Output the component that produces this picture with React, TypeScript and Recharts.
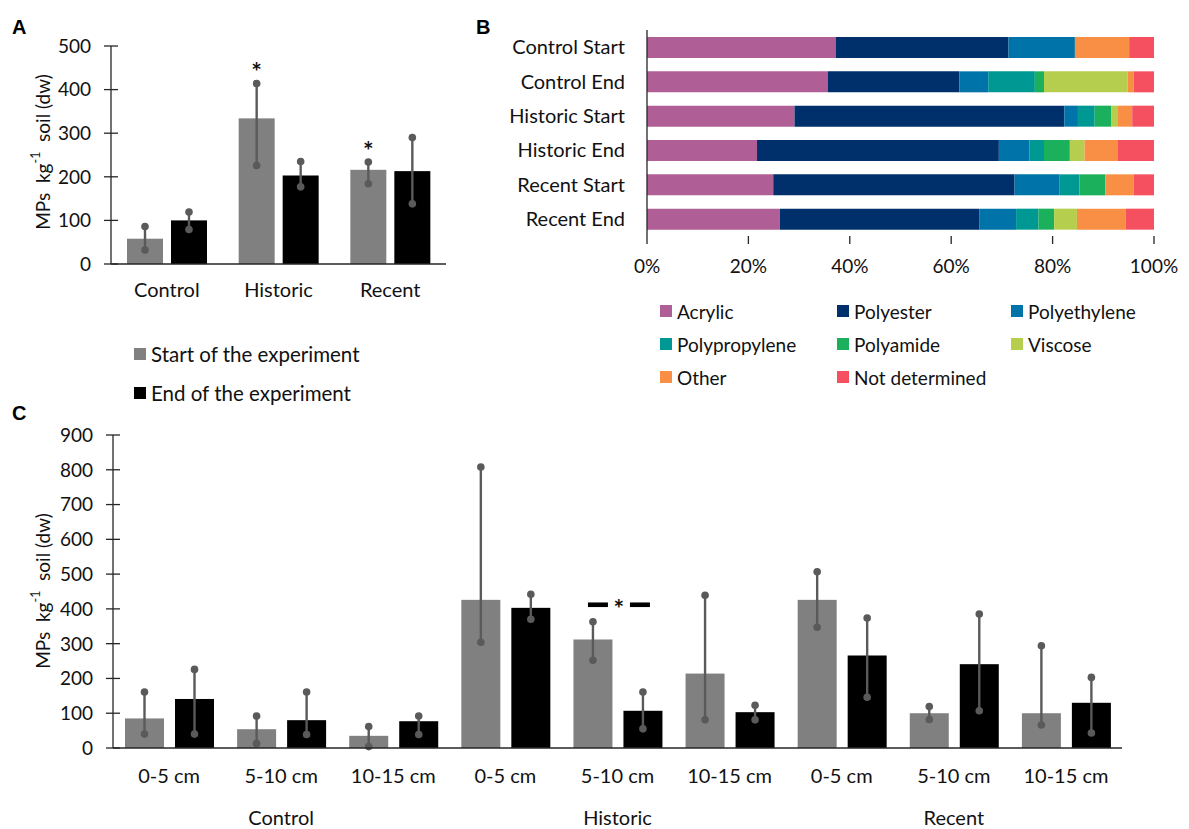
import React from "react"
import { Bar, BarChart, XAxis, YAxis } from "recharts"

// ---- Panel A: site totals ----
const groupsA = ["Control", "Historic", "Recent"]
const startA = [58, 334, 216]
const startALo = [32, 226, 184]
const startAHi = [86, 414, 234]
const endA = [100, 203, 213]
const endALo = [79, 177, 138]
const endAHi = [119, 235, 290]
const starA = [false, true, true]
const seriesNames = ["Start of the experiment", "End of the experiment"]
const seriesColors = ["#808080", "#000000"]
const ticksA = [0, 100, 200, 300, 400, 500]

// ---- Panel B: polymer composition (%) ----
const samplesB = ["Control Start", "Control End", "Historic Start", "Historic End", "Recent Start", "Recent End"]
const polymers = ["Acrylic", "Polyester", "Polyethylene", "Polypropylene", "Polyamide", "Viscose", "Other", "Not determined"]
const polymerColors = ["#B05F96", "#00306B", "#0074A8", "#009893", "#1BB05C", "#B6CE4E", "#F88F45", "#F4505F"]
const acrylic = [37.2, 35.7, 29.1, 21.7, 24.9, 26.2]
const polyester = [34.1, 25.9, 53.2, 47.7, 47.6, 39.4]
const polyethylene = [13.1, 5.7, 2.7, 6.0, 8.9, 7.2]
const polypropylene = [0, 9.2, 3.3, 2.9, 3.9, 4.4]
const polyamide = [0, 1.8, 3.3, 5.1, 5.1, 3.1]
const viscose = [0, 16.5, 1.3, 2.9, 0, 4.5]
const other = [10.7, 1.2, 2.8, 6.6, 5.6, 9.6]
const notDetermined = [4.9, 4.0, 4.3, 7.1, 4.0, 5.6]
const polymerValues = [acrylic, polyester, polyethylene, polypropylene, polyamide, viscose, other, notDetermined]
const ticksB = [0, 20, 40, 60, 80, 100]

// ---- Panel C: by depth ----
const sitesC = ["Control", "Historic", "Recent"]
const depthsC = ["0-5 cm", "5-10 cm", "10-15 cm"]
const startC = [85, 54, 35, 426, 312, 214, 426, 100, 100]
const startCLo = [40, 13, 4, 304, 252, 81, 347, 82, 66]
const startCHi = [161, 92, 62, 808, 363, 439, 507, 119, 294]
const endC = [141, 80, 77, 403, 107, 103, 266, 241, 130]
const endCLo = [40, 39, 39, 370, 55, 81, 146, 107, 43]
const endCHi = [226, 161, 92, 442, 161, 123, 374, 385, 203]
const sigC = [false, false, false, false, true, false, false, false, false]
const ticksC = [0, 100, 200, 300, 400, 500, 600, 700, 800, 900]

const dataA = groupsA.map((g, i) => ({
  group: g,
  start: startA[i], startLo: startALo[i], startHi: startAHi[i],
  end: endA[i], endLo: endALo[i], endHi: endAHi[i],
  star: starA[i],
}))

const dataB = samplesB.map((s, i) => {
  const row: any = { sample: s }
  polymers.forEach((p, j) => { row[p] = polymerValues[j][i] })
  return row
})

const dataC = sitesC.flatMap((site, si) =>
  depthsC.map((d, di) => {
    const i = si * 3 + di
    return {
      depth: d, site,
      start: startC[i], startLo: startCLo[i], startHi: startCHi[i],
      end: endC[i], endLo: endCLo[i], endHi: endCHi[i],
      sig: sigC[i],
    }
  })
)

const FONT = "Lato, 'Open Sans', sans-serif"
const TEXT = "#111"
const AXIS = "#262626"
const WHISKER = "#5a5a5a"

function RangeBar(props: any) {
  const { x, y, width, height, fill, payload, vKey, gap } = props
  const v = payload[vKey]
  const lo = payload[vKey + "Lo"]
  const hi = payload[vKey + "Hi"]
  const base = y + height
  const k = v ? height / v : 0
  const yOf = (t: number) => base - t * k
  const cx = x + width / 2
  return (
    <g>
      <rect x={x} y={y} width={width} height={height} fill={fill} />
      <line x1={cx} x2={cx} y1={yOf(lo)} y2={yOf(hi)} stroke={WHISKER} strokeWidth={2.4} />
      <circle cx={cx} cy={yOf(lo)} r={3.8} fill={WHISKER} />
      <circle cx={cx} cy={yOf(hi)} r={3.8} fill={WHISKER} />
      {payload.star && vKey === "start" && (
        <text x={cx} y={yOf(hi) - 2} textAnchor="middle" fontSize={25} fontWeight="bold" fontFamily={FONT} fill={TEXT}>*</text>
      )}
      {payload.sig && vKey === "start" && (() => {
        const mx = x + width + gap / 2
        const sy = yOf(hi) - 17
        return (
          <g>
            <rect x={mx - 30} y={sy - 2.3} width={20} height={4.6} fill="#000" />
            <rect x={mx + 12} y={sy - 2.3} width={20} height={4.6} fill="#000" />
            <text x={mx + 1} y={sy + 13} textAnchor="middle" fontSize={25} fontWeight="bold" fontFamily={FONT} fill={TEXT}>*</text>
          </g>
        )
      })()}
    </g>
  )
}

function CrossTick(props: any) {
  const { x, y, payload } = props
  return (
    <g>
      <line x1={x - 7} x2={x + 7} y1={y} y2={y} stroke={AXIS} strokeWidth={1.3} />
      <text x={x - 20} y={y} dy="0.36em" textAnchor="end" fontSize={19} fontFamily={FONT} fill={TEXT}>
        {payload.value}
      </text>
    </g>
  )
}

function DepthTick(props: any) {
  const { x, y, payload, index } = props
  const row = dataC[index]
  return (
    <g>
      <text x={x} y={y + 35} textAnchor="middle" fontSize={20} fontFamily={FONT} fill={TEXT}>{payload.value}</text>
      {index % 3 === 1 && (
        <text x={x} y={y + 77} textAnchor="middle" fontSize={20} fontFamily={FONT} fill={TEXT}>{row.site}</text>
      )}
    </g>
  )
}

function YTitle({ cx, cy }: { cx: number; cy: number }) {
  return (
    <text
      x={cx} y={cy} transform={`rotate(-90 ${cx} ${cy})`} textAnchor="middle" dominantBaseline="central"
      fontSize={19} fontFamily={FONT} fill={TEXT} style={{ whiteSpace: "pre" }}
    >
      MPs  kg<tspan fontSize={12.5} dy={-7}>-1</tspan><tspan dy={7}>  soil (dw)</tspan>
    </text>
  )
}

const letter = (t: string, left: number, top: number) => (
  <div style={{ position: "absolute", left, top, fontFamily: "'Liberation Sans', Arial, sans-serif", fontWeight: "bold", fontSize: 20, color: "#000" }}>{t}</div>
)

function Swatch({ color, label, left, top, size }: { color: string; label: string; left: number; top: number; size: number }) {
  return (
    <div style={{ position: "absolute", left, top: top - 12, height: 24, display: "flex", alignItems: "center", fontFamily: FONT, fontSize: size, color: TEXT, whiteSpace: "nowrap" }}>
      <span style={{ width: 12, height: 12, background: color, display: "inline-block", marginRight: 5 }} />
      {label}
    </div>
  )
}

export default function App() {
  return (
    <div style={{ position: "absolute", left: 0, top: 0, width: 1189, height: 829, background: "#fff", overflow: "hidden" }}>
      {/* Panel A */}
      <div style={{ position: "absolute", left: 0, top: 0 }}>
        <BarChart width={460} height={320} data={dataA} margin={{ top: 46, right: 14, left: 0, bottom: 16 }} barSize={36} barGap={8}>
          <XAxis dataKey="group" axisLine={{ stroke: AXIS, strokeWidth: 1.3 }} tickLine={false} tickSize={0} tickMargin={19}
            tick={{ fontSize: 20, fontFamily: FONT, fill: TEXT }} height={40} interval={0} />
          <YAxis domain={[0, 500]} ticks={ticksA} width={111} axisLine={{ stroke: AXIS, strokeWidth: 1.3 }} tickLine={false}
            tickSize={0} tickMargin={0} tick={<CrossTick />} interval={0} />
          <Bar dataKey="start" name={seriesNames[0]} fill={seriesColors[0]} isAnimationActive={false}
            shape={(p: any) => <RangeBar {...p} vKey="start" gap={8} />} />
          <Bar dataKey="end" name={seriesNames[1]} fill={seriesColors[1]} isAnimationActive={false}
            shape={(p: any) => <RangeBar {...p} vKey="end" gap={8} />} />
        </BarChart>
      </div>
      <svg style={{ position: "absolute", left: 0, top: 0 }} width={80} height={829}>
        <YTitle cx={42} cy={152} />
        <YTitle cx={42} cy={591} />
      </svg>
      {letter("A", 12, 16)}
      {seriesNames.map((n, i) => (
        <Swatch key={n} color={seriesColors[i]} label={n} left={134} top={354 + i * 39} size={20.5} />
      ))}

      {/* Panel B */}
      <div style={{ position: "absolute", left: 460, top: 0 }}>
        <BarChart width={729} height={300} data={dataB} layout="vertical" margin={{ top: 30, right: 35, left: 0, bottom: 24 }} barSize={21}>
          <XAxis type="number" domain={[0, 100]} ticks={ticksB} tickFormatter={(v) => `${v}%`} axisLine={false}
            tickLine={{ stroke: AXIS, strokeWidth: 1.3 }} tickSize={8} tickMargin={16} height={40} interval={0}
            tick={{ fontSize: 19, fontFamily: FONT, fill: TEXT }} />
          <YAxis type="category" dataKey="sample" width={187} axisLine={{ stroke: AXIS, strokeWidth: 1.3 }} tickLine={false}
            tickSize={0} tickMargin={22} interval={0} tick={{ fontSize: 20, fontFamily: FONT, fill: TEXT }} />
          {polymers.map((p, j) => (
            <Bar key={p} dataKey={p} stackId="s" fill={polymerColors[j]} isAnimationActive={false} />
          ))}
        </BarChart>
      </div>
      {letter("B", 476, 16)}
      {polymers.map((p, j) => (
        <Swatch key={p} color={polymerColors[j]} label={p} left={[660, 837, 1011][j % 3]} top={311 + Math.floor(j / 3) * 33} size={19} />
      ))}

      {/* Panel C */}
      {letter("C", 12, 402)}
      <div style={{ position: "absolute", left: 0, top: 400 }}>
        <BarChart width={1189} height={429} data={dataC} margin={{ top: 35, right: 67, left: 0, bottom: 0 }} barSize={39} barGap={11}>
          <XAxis dataKey="depth" axisLine={{ stroke: AXIS, strokeWidth: 1.3 }} tickLine={false} tickSize={0} tickMargin={0}
            tick={<DepthTick />} height={81} interval={0} />
          <YAxis domain={[0, 900]} ticks={ticksC} width={113} axisLine={{ stroke: AXIS, strokeWidth: 1.3 }} tickLine={false}
            tickSize={0} tickMargin={0} tick={<CrossTick />} interval={0} />
          <Bar dataKey="start" name={seriesNames[0]} fill={seriesColors[0]} isAnimationActive={false}
            shape={(p: any) => <RangeBar {...p} vKey="start" gap={11} />} />
          <Bar dataKey="end" name={seriesNames[1]} fill={seriesColors[1]} isAnimationActive={false}
            shape={(p: any) => <RangeBar {...p} vKey="end" gap={11} />} />
        </BarChart>
      </div>
    </div>
  )
}
